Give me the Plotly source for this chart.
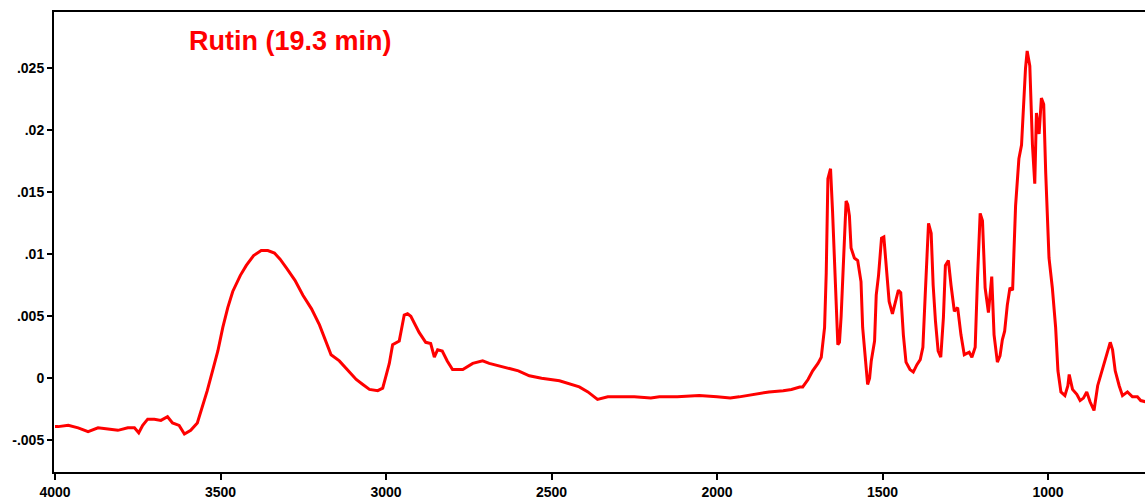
import plotly.graph_objects as go

# FTIR absorbance spectrum of rutin (eluted at 19.3 min)
wavenumber = [
    4000, 3990, 3960, 3930, 3900, 3870, 3840, 3810, 3780, 3760, 3747, 3735, 3720,
    3700, 3680, 3660, 3645, 3625, 3609, 3590, 3570, 3554, 3540, 3523, 3508, 3493,
    3478, 3463, 3440, 3422, 3400, 3377, 3357, 3337, 3320, 3301, 3275, 3251, 3225,
    3201, 3185, 3166, 3141, 3115, 3090, 3070, 3050, 3025, 3010, 3000, 2990, 2980,
    2960, 2945, 2935, 2925, 2910, 2900, 2880, 2865, 2854, 2844, 2830, 2815, 2799,
    2768, 2738, 2708, 2688, 2660, 2627, 2600, 2567, 2530, 2476, 2440, 2416, 2390,
    2361, 2330, 2295, 2250, 2200, 2174, 2120, 2054, 2000, 1960, 1933, 1890, 1843,
    1800, 1775, 1750, 1741, 1725, 1711, 1695, 1685, 1675, 1670, 1665, 1657, 1651,
    1645, 1640, 1635, 1630, 1625, 1620, 1615, 1610, 1605, 1600, 1595, 1585, 1575,
    1565, 1560, 1552, 1545, 1539, 1534, 1524, 1519, 1512, 1503, 1496, 1488, 1480,
    1470, 1460, 1452, 1445, 1437, 1429, 1417, 1407, 1396, 1386, 1378, 1371, 1366,
    1361, 1353, 1347, 1340, 1332, 1324, 1316, 1310, 1301, 1293, 1283, 1273, 1263,
    1253, 1245, 1238, 1230, 1220, 1213, 1205, 1198, 1190, 1180, 1170, 1163, 1153,
    1145, 1138, 1131, 1123, 1115, 1107, 1098, 1088, 1080, 1073, 1068, 1063, 1055,
    1047, 1040, 1035, 1031, 1027, 1020, 1013, 1007, 997, 987, 977, 970, 961, 949,
    940, 936, 926, 913, 903, 893, 883, 873, 861, 850, 840, 825, 812, 805, 797, 785,
    775, 760, 745, 730, 720, 705,
]
absorbance = [
    -0.0039, -0.0039, -0.0038, -0.0040, -0.0043, -0.0040, -0.0041, -0.0042, -0.0040,
    -0.0040, -0.0044, -0.0038, -0.0033, -0.0033, -0.0034, -0.0031, -0.0036, -0.0038,
    -0.0045, -0.0042, -0.0036, -0.0023, -0.0010, 0.0007, 0.0022, 0.0041,
    0.0057, 0.0070, 0.0083, 0.0091, 0.0099, 0.0103, 0.0103, 0.0101, 0.0096, 0.0089,
    0.0079, 0.0067, 0.0056, 0.0043, 0.0032, 0.0019, 0.0014, 0.0006, -0.0001, -0.0005,
    -0.0009, -0.0010, -0.0008, 0.0002, 0.0012, 0.0027, 0.0030, 0.0051, 0.0052,
    0.0050, 0.0042, 0.0037, 0.0029, 0.0028, 0.0017, 0.0023, 0.0022, 0.0014, 0.0007,
    0.0007, 0.0012, 0.0014, 0.0012, 0.0010, 0.0008, 0.0006, 0.0002, 0.0000, -0.0002,
    -0.0005, -0.0007, -0.0011, -0.0017, -0.0015, -0.0015, -0.0015, -0.0016, -0.0015,
    -0.0015, -0.0014, -0.0015, -0.0016, -0.0015, -0.0013, -0.0011, -0.0010, -0.0009,
    -0.0007, -0.0007, -0.0001, 0.0006, 0.0012, 0.0017, 0.0041, 0.0085, 0.0161, 0.0169,
    0.0135, 0.0094, 0.0055, 0.0027, 0.0029, 0.0050, 0.0081, 0.0120, 0.0143, 0.0140,
    0.0131, 0.0105, 0.0097, 0.0095, 0.0078, 0.0041, 0.0014, -0.0005, 0.0000,
    0.0014, 0.0030, 0.0067, 0.0083, 0.0113, 0.0114, 0.0086, 0.0062, 0.0052, 0.0062,
    0.0071, 0.0069, 0.0035, 0.0013, 0.0007, 0.0005, 0.0011, 0.0015, 0.0025, 0.0067,
    0.0100, 0.0125, 0.0117, 0.0075, 0.0046, 0.0022, 0.0017, 0.0049, 0.0091, 0.0095,
    0.0075, 0.0054, 0.0057, 0.0035, 0.0019, 0.0020, 0.0021, 0.0017, 0.0025, 0.0081,
    0.0133, 0.0127, 0.0073, 0.0053, 0.0082, 0.0035, 0.0013, 0.0018, 0.0031, 0.0038,
    0.0059, 0.0073, 0.0071, 0.0139, 0.0177, 0.0188, 0.0228, 0.0250, 0.0264, 0.0252,
    0.0188, 0.0157, 0.0214, 0.0205, 0.0197, 0.0226, 0.0221, 0.0166, 0.0097, 0.0073,
    0.0041, 0.0006, -0.0011, -0.0014, -0.0006, 0.0003, -0.0009, -0.0013, -0.0018,
    -0.0016, -0.0011, -0.0019, -0.0026, -0.0006, 0.0003, 0.0018, 0.0029, 0.0023,
    0.0006, -0.0006, -0.0014, -0.0011, -0.0015, -0.0015, -0.0018, -0.0019,
]

x_ticks = [4000, 3500, 3000, 2500, 2000, 1500, 1000]
y_ticks = [-0.005, 0, 0.005, 0.01, 0.015, 0.02, 0.025]
y_tick_labels = ["-.005", "0", ".005", ".01", ".015", ".02", ".025"]

title_text = "Rutin (19.3 min)"

tick_font = dict(family="Liberation Sans, Arial, sans-serif", size=14,
                 color="black", weight="bold")

fig = go.Figure()
fig.add_trace(go.Scatter(
    x=wavenumber, y=absorbance, mode="lines",
    line=dict(color="#ff0000", width=3),
    hoverinfo="skip", showlegend=False,
))

fig.update_layout(
    width=1145, height=500,
    margin=dict(l=54, r=0, t=12, b=25),
    paper_bgcolor="white", plot_bgcolor="white",
    xaxis=dict(
        range=[4003, 707], tickvals=x_ticks,
        showgrid=False, zeroline=False,
        showline=True, linecolor="black", linewidth=2, mirror=True,
        ticks="outside", ticklen=6, tickwidth=2, tickcolor="black",
        tickfont=tick_font,
    ),
    yaxis=dict(
        range=[-0.00756, 0.02954], tickvals=y_ticks, ticktext=y_tick_labels,
        showgrid=False, zeroline=False,
        showline=True, linecolor="black", linewidth=2,
        ticks="outside", ticklen=5, tickwidth=2, tickcolor="black",
        tickfont=tick_font,
    ),
    annotations=[dict(
        text=title_text, xref="paper", yref="paper",
        x=0.2172, y=0.937, xanchor="center", yanchor="middle",
        showarrow=False,
        font=dict(family="Liberation Sans, Arial, sans-serif", size=27,
                  color="#ff0000", weight="bold"),
    )],
)

fig.write_html("out.html")
